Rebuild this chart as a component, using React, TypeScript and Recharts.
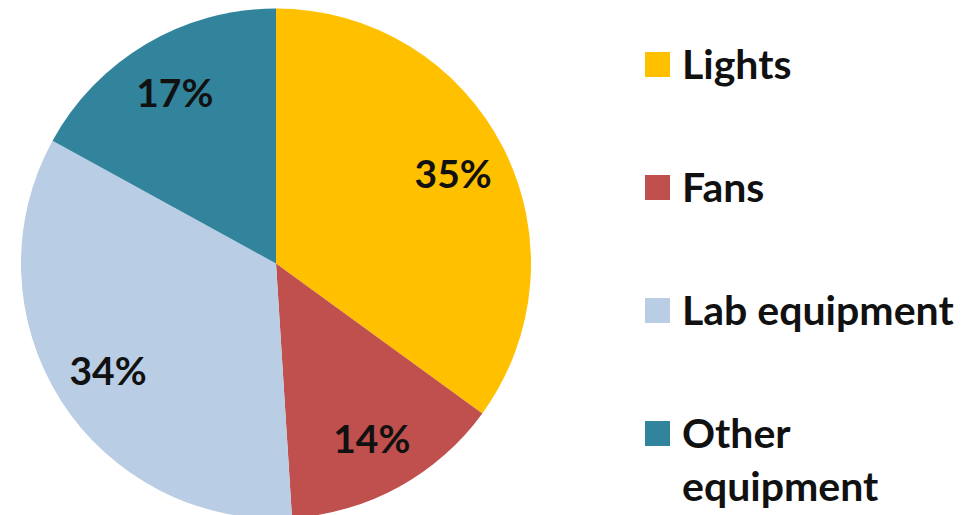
import React from "react";
import { PieChart, Pie, Cell, Legend } from "recharts";

const categories = ["Lights", "Fans", "Lab equipment", "Other equipment"];
const shares = [35, 14, 34, 17];
const colors = ["#FFC000", "#C0504D", "#B9CDE5", "#31849B"];

const data = categories.map((name, i) => ({ name, value: shares[i] }));

const FONT = "Lato, 'Open Sans', sans-serif";
const RADIAN = Math.PI / 180;

const renderLabel = (props: any) => {
  const { cx, cy, midAngle, outerRadius, value } = props;
  const r = outerRadius * 0.78;
  const x = cx + r * Math.cos(-midAngle * RADIAN);
  const y = cy + r * Math.sin(-midAngle * RADIAN);
  return (
    <text
      x={x}
      y={y}
      fill="#111"
      textAnchor="middle"
      dominantBaseline="central"
      fontFamily={FONT}
      fontWeight={700}
      fontSize={39}
    >
      {`${value}%`}
    </text>
  );
};

const renderLegend = (props: any) => {
  const payload = [...(props.payload || [])].sort(
    (a: any, b: any) => categories.indexOf(a.value) - categories.indexOf(b.value)
  );
  return (
    <div style={{ fontFamily: FONT, fontWeight: 700, fontSize: 41, color: "#111" }}>
      {payload.map((entry: any, i: number) => (
        <div
          key={i}
          style={{ display: "flex", alignItems: "flex-start", marginBottom: 70, lineHeight: "53px" }}
        >
          <div
            style={{
              width: 25,
              height: 25,
              background: entry.color,
              marginTop: 15,
              marginRight: 12,
              flex: "0 0 auto",
            }}
          />
          <div style={{ width: 285 }}>{entry.value}</div>
        </div>
      ))}
    </div>
  );
};

export default function App() {
  return (
    <PieChart width={957} height={507} margin={{ top: 0, right: 0, bottom: 0, left: 0 }}>
      <Pie
        data={data}
        dataKey="value"
        nameKey="name"
        cx={268}
        cy={255.5}
        outerRadius={255}
        startAngle={90}
        endAngle={-270}
        stroke="none"
        labelLine={false}
        label={renderLabel}
        isAnimationActive={false}
      >
        {data.map((d, i) => (
          <Cell key={d.name} fill={colors[i]} />
        ))}
      </Pie>
      <Legend
        layout="vertical"
        align="right"
        verticalAlign="top"
        content={renderLegend}
        wrapperStyle={{ position: "absolute", left: 637, top: 29, width: 320 }}
      />
    </PieChart>
  );
}
